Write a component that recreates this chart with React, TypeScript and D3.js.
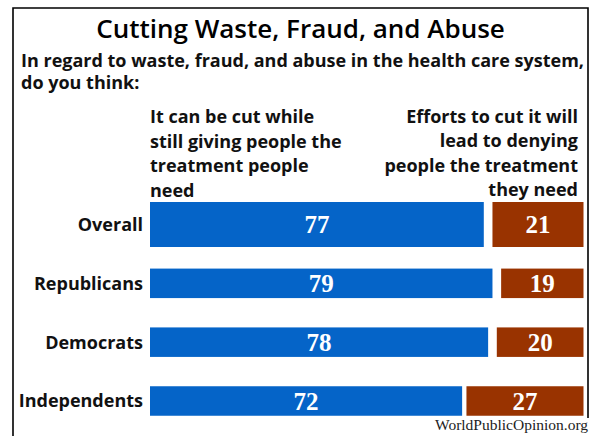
import React from "react";
import * as d3 from "d3";

const categories = ["Overall", "Republicans", "Democrats", "Independents"];
const canCut = [77, 79, 78, 72];
const denying = [21, 19, 20, 27];
const titleText = "Cutting Waste, Fraud, and Abuse";
const subtitleLines = [
  "In regard to waste, fraud, and abuse in the health care system,",
  "do you think:",
];
const leftHeader = ["It can be cut while", "still giving people the", "treatment people", "need"];
const rightHeader = ["Efforts to cut it will", "lead to denying", "people the treatment", "they need"];
const footer = "WorldPublicOpinion.org";

const W = 591;
const H = 436;
const BLUE = "#0564c8";
const BROWN = "#993300";
const SANS = "'Open Sans', Lato, sans-serif";
const SERIF = "'Liberation Serif', 'DejaVu Serif', serif";

export default function App() {
  const x = d3.scaleLinear().domain([0, 100]).range([150, 583.5]);
  const y = d3.scalePoint<string>().domain(categories).range([224.5, 401]);
  const barH = (i: number) => (i === 0 ? 45 : 29.5);

  return (
    <div style={{ position: "absolute", left: 0, top: 0 }}>
      <svg width={W} height={H} style={{ display: "block", background: "#fff" }}>
        <path d="M13,436 V8 H588 V418" fill="none" stroke="#000" strokeWidth={1.6} />
        <text x={300.5} y={37.5} textAnchor="middle" fontFamily={SANS} fontSize={26} fontWeight={600} fill="#000">
          {titleText}
        </text>
        {subtitleLines.map((t, i) => (
          <text key={i} x={21} y={67 + i * 22} fontFamily={SANS} fontSize={18} fontWeight={700} fill="#111">
            {t}
          </text>
        ))}
        {leftHeader.map((t, i) => (
          <text key={"l" + i} x={150} y={123 + i * 24.7} fontFamily={SANS} fontSize={18} fontWeight={700} fill="#111">
            {t}
          </text>
        ))}
        {rightHeader.map((t, i) => (
          <text key={"r" + i} x={578} y={123 + i * 24.4} textAnchor="end" fontFamily={SANS} fontSize={18} fontWeight={700} fill="#111">
            {t}
          </text>
        ))}
        {categories.map((c, i) => {
          const cy = y(c) as number;
          const h = barH(i);
          const bx0 = x(0);
          const bx1 = x(canCut[i]);
          const rx0 = x(100 - denying[i]);
          const rx1 = x(100);
          return (
            <g key={c}>
              <text x={143} y={cy} dy="0.36em" textAnchor="end" fontFamily={SANS} fontSize={18} fontWeight={700} fill="#111">
                {c}
              </text>
              <rect x={bx0} y={cy - h / 2} width={bx1 - bx0} height={h} fill={BLUE} />
              <rect x={rx0} y={cy - h / 2} width={rx1 - rx0} height={h} fill={BROWN} />
              <text x={(bx0 + bx1) / 2} y={cy} dy="0.35em" textAnchor="middle" fontFamily={SERIF} fontSize={25} fontWeight={700} fill="#fff">
                {canCut[i]}
              </text>
              <text x={(rx0 + rx1) / 2} y={cy} dy="0.35em" textAnchor="middle" fontFamily={SERIF} fontSize={25} fontWeight={700} fill="#fff">
                {denying[i]}
              </text>
            </g>
          );
        })}
        <text x={435} y={430} fontFamily={SERIF} fontSize={15.5} fill="#222">
          {footer}
        </text>
      </svg>
    </div>
  );
}
